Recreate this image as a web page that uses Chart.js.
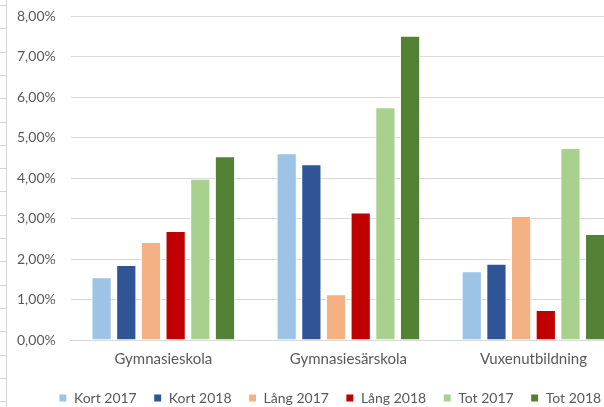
<!DOCTYPE html>
<html>
<head>
<meta charset="utf-8">
<script src="https://cdn.jsdelivr.net/npm/chart.js@4/dist/chart.umd.min.js"></script>
<style>
  html, body { margin: 0; padding: 0; background: #fff; overflow: hidden; width: 604px; height: 407px; }
  #wrap { position: relative; width: 604px; height: 407px; overflow: hidden; }
  #sheet {
    position: absolute; left: 0; top: 0; width: 6px; height: 407px;
    border-right: 1px solid #d4d4d4;
    background: repeating-linear-gradient(to bottom, transparent 0, transparent 5px, #d4d4d4 5px, #d4d4d4 6px, transparent 6px, transparent 23.3px);
  }
  #chart { position: absolute; left: 0; top: 0; }
</style>
</head>
<body>
<div id="wrap">
  <canvas id="chart" width="660" height="407"></canvas>
  <div id="sheet"></div>
</div>
<script>
// schools on the x axis
const categories = ['Gymnasieskola', 'Gymnasiesärskola', 'Vuxenutbildning'];
// values in percent
const kort2017 = [1.55, 4.61, 1.70];
const kort2018 = [1.85, 4.34, 1.88];
const lang2017 = [2.42, 1.13, 3.06];
const lang2018 = [2.69, 3.15, 0.74];
const tot2017 = [3.98, 5.75, 4.74];
const tot2018 = [4.54, 7.51, 2.62];
const seriesNames = ['Kort 2017', 'Kort 2018', 'Lång 2017', 'Lång 2018', 'Tot 2017', 'Tot 2018'];
const seriesColors = ['#9DC3E6', '#2F5597', '#F4B183', '#C00000', '#A9D18E', '#548235'];

const txt = '#595959';
const font = { family: 'Lato', size: 14 };
const font15 = { family: 'Lato', size: 15 };

const seriesData = [kort2017, kort2018, lang2017, lang2018, tot2017, tot2018];
const datasets = seriesData.map((d, i) => ({
  label: seriesNames[i],
  data: d,
  backgroundColor: seriesColors[i],
  borderColor: '#ffffff',
  borderWidth: 1,
  categoryPercentage: 0.8,
  barPercentage: 0.82
}));

// nudge the legend to where excel puts it (it is centred on the whole chart, not the plot)
const shiftLegend = {
  id: 'shiftLegend',
  afterLayout(chart) {
    const l = chart.legend;
    l.left += 16; l.right += 16;
    l.top -= 4; l.bottom -= 4;
  }
};

new Chart(document.getElementById('chart'), {
  type: 'bar',
  data: { labels: categories, datasets },
  plugins: [shiftLegend],
  options: {
    responsive: false,
    animation: false,
    layout: { padding: { left: 2, right: 34, top: 16, bottom: -12 } },
    plugins: {
      tooltip: { enabled: false },
      legend: {
        position: 'bottom',
        labels: { color: txt, font, boxWidth: 8, boxHeight: 8, padding: 17 }
      }
    },
    scales: {
      x: {
        grid: { display: false, drawTicks: false },
        border: { display: true, color: '#d9d9d9', width: 1 },
        ticks: { color: txt, font: font15, padding: 10 }
      },
      y: {
        min: 0, max: 8,
        afterFit: s => { s.paddingTop = 0; s.paddingBottom = 0; },
        grid: { color: '#d9d9d9', lineWidth: 1, drawTicks: false },
        border: { display: false },
        ticks: {
          stepSize: 1, color: txt, font, padding: 15,
          callback: v => v.toFixed(2).replace('.', ',') + '%'
        }
      }
    }
  }
});
</script>
</body>
</html>
